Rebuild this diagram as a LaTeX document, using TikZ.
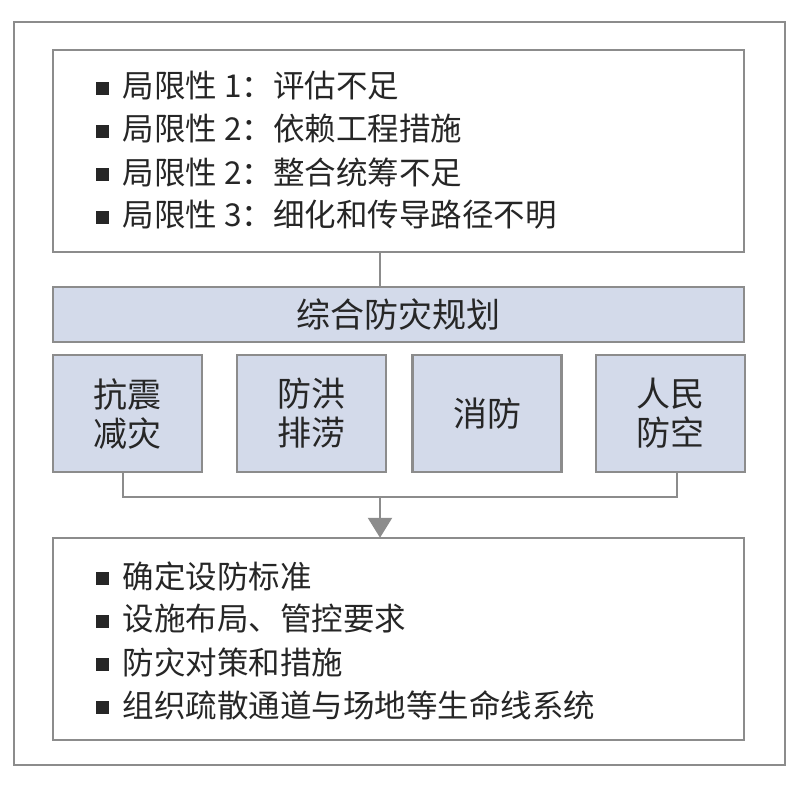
\documentclass[tikz,border=0pt]{standalone}
\usepackage{fontspec}
\newfontfamily\cjk{Noto Sans CJK SC}
\usetikzlibrary{positioning,calc,arrows.meta}
\definecolor{frame}{HTML}{8C8C8C}
\definecolor{bandfill}{HTML}{D3DAEA}
\tikzset{
    box/.style={draw=frame, line width=2.5pt, fill=white},
    cat/.style={draw=frame, line width=2.5pt, fill=bandfill, minimum width=149pt, minimum height=117pt,
        align=center, font=\cjk\fontsize{34}{39}\selectfont, text=black!85},
    item/.style={anchor=west, font=\cjk\fontsize{31.5}{36}\selectfont, text=black!85},
    link/.style={draw=frame, line width=2.5pt},
}
\newcommand{\sq}{\rule[3pt]{13pt}{13pt}\hspace{14pt}}
\begin{document}
\begin{tikzpicture}[x=1pt,y=-1pt]
    \useasboundingbox (0,0) rectangle (800,784);
    \draw[box] (14,22) rectangle (785,765);
    % limitations
    \node[box, minimum width=691pt, minimum height=202pt] (top) at (398.5,151) {};
    \node[item] (l1) at (92,86) {\sq 局限性 1：评估不足};
    \node[item] (l2) at (92,129) {\sq 局限性 2：依赖工程措施};
    \node[item] (l3) at (92,172) {\sq 局限性 2：整合统筹不足};
    \node[item] (l4) at (92,215) {\sq 局限性 3：细化和传导路径不明};
    % planning
    \node[cat, minimum width=691pt, minimum height=55pt] (plan) at (398.5,314.5) {综合防灾规划};
    \node[cat] (c1) at (127.5,413.5) {抗震\\减灾};
    \node[cat] (c2) at (311.5,413.5) {防洪\\排涝};
    \node[cat] (c3) at (487,413.5) {消防};
    \node[cat] (c4) at (670.5,413.5) {人民\\防空};
    % measures
    \node[box, minimum width=691pt, minimum height=202pt] (bot) at (398.5,639) {};
    \node[item] (m1) at (92,576) {\sq 确定设防标准};
    \node[item] (m2) at (92,619) {\sq 设施布局、管控要求};
    \node[item] (m3) at (92,662) {\sq 防灾对策和措施};
    \node[item] (m4) at (92,705) {\sq 组织疏散通道与场地等生命线系统};
    \coordinate (j1) at (123,497);
    \coordinate (j4) at (677,497);
    \coordinate (jm) at (380,497);
    \draw[link] (380,252) -- (380,287);
    \draw[link] (c1.south -| j1) -- (j1) -- (j4) -- (c4.south -| j4);
    \draw[link, -{Triangle[length=20pt,width=24pt]}, shorten >=-1pt] (jm) -- (bot.north -| jm);
\end{tikzpicture}
\end{document}
